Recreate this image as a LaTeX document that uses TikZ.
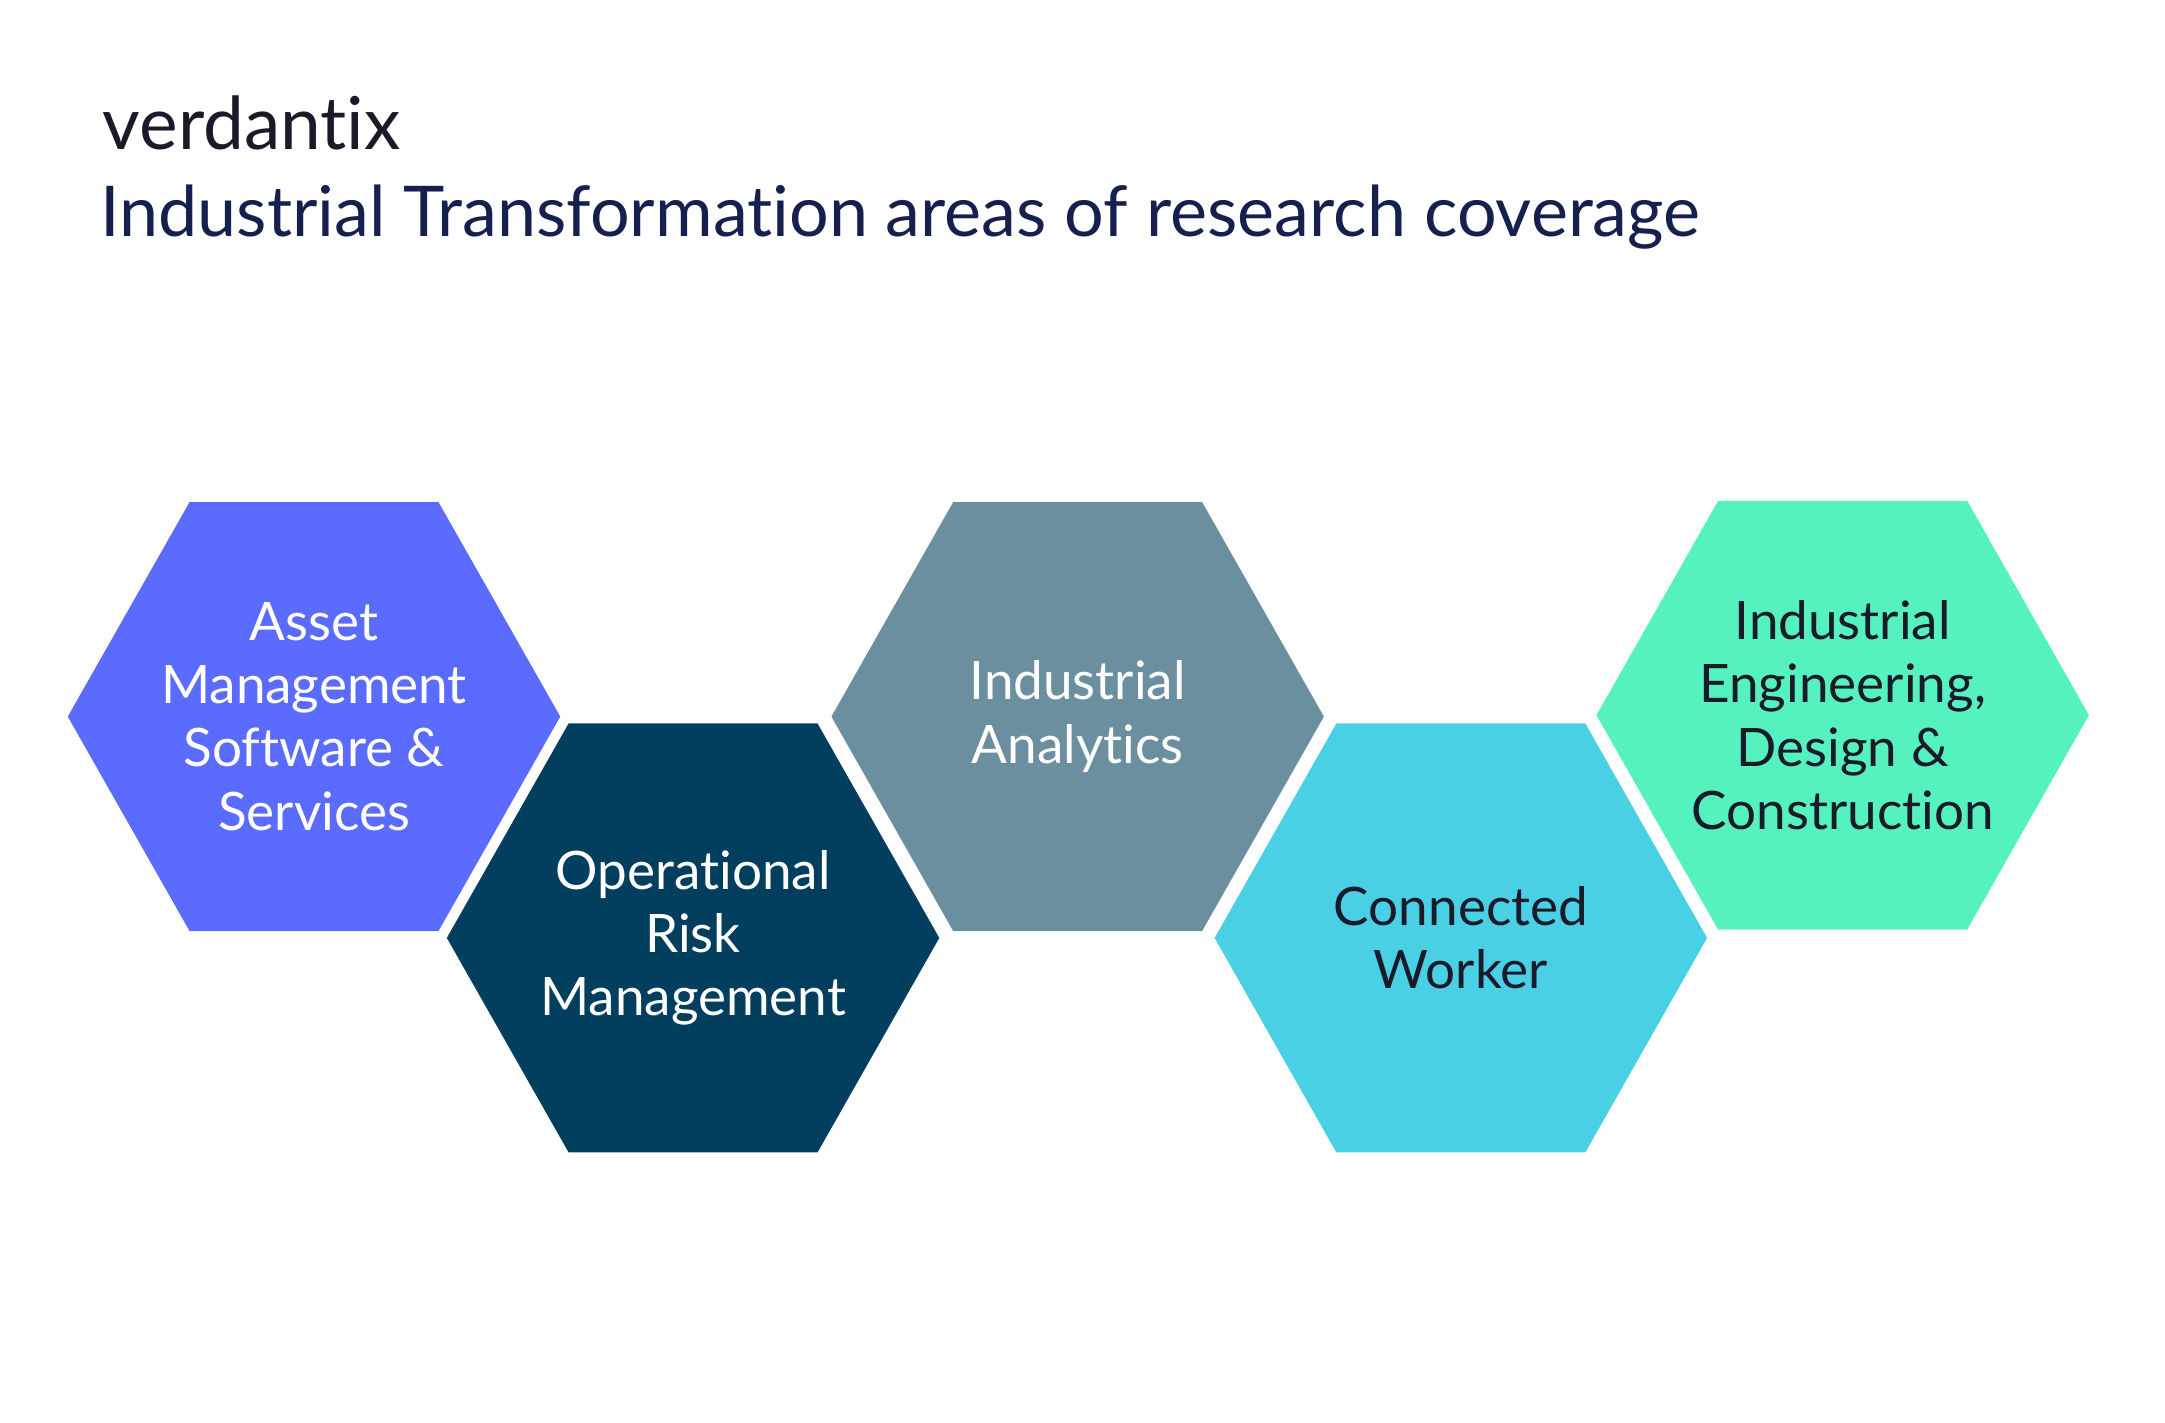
\documentclass[tikz,border=0pt]{standalone}
\usepackage{fontspec}
\setmainfont{Lato}[Ligatures=NoCommon]
\definecolor{c1}{HTML}{5B6BFE}
\definecolor{c2}{HTML}{023F5E}
\definecolor{c3}{HTML}{6C8FA0}
\definecolor{c4}{HTML}{4AD0E5}
\definecolor{c5}{HTML}{55F2C0}
\definecolor{navy}{HTML}{15204F}
\definecolor{dk}{HTML}{1A1A2A}
\begin{document}
\begin{tikzpicture}[x=0.01cm,y=-0.01cm,
  lbl/.style={align=center,font=\fontsize{10.9}{13}\selectfont}]
\useasboundingbox (0,0) rectangle (1565,1028);
\newcommand{\hexa}[4]{%
  \fill[#3] (#1-178,#2) -- (#1-90,#2-155) -- (#1+90,#2-155) -- (#1+178,#2) -- (#1+90,#2+155) -- (#1-90,#2+155) -- cycle;
  \node[lbl] (#4) at (#1,#2) {};}
\hexa{227}{518}{c1}{h1}
\hexa{501}{678}{c2}{h2}
\hexa{779}{518}{c3}{h3}
\hexa{1056}{678}{c4}{h4}
\hexa{1332}{517}{c5}{h5}
\node[lbl,text=white] (t1) at (227,518) {Asset\\Management\\Software \&\\Services};
\node[lbl,text=white] (t2) at (501,678) {Operational\\Risk\\Management};
\node[lbl,text=white] (t3) at (779,518) {Industrial\\Analytics};
\node[lbl,text=dk] (t4) at (1056,678) {Connected\\Worker};
\node[lbl,text=dk] (t5) at (1332,517) {Industrial\\Engineering,\\Design \&\\Construction};
\node[anchor=west,text=dk,font=\fontsize{15}{16}\selectfont] (logo) at (62,89) {verdantix};
\node[anchor=west,text=navy,font=\fontsize{14.4}{16}\selectfont] (title) at (60,157) {Industrial Transformation areas of research coverage};
\end{tikzpicture}
\end{document}
